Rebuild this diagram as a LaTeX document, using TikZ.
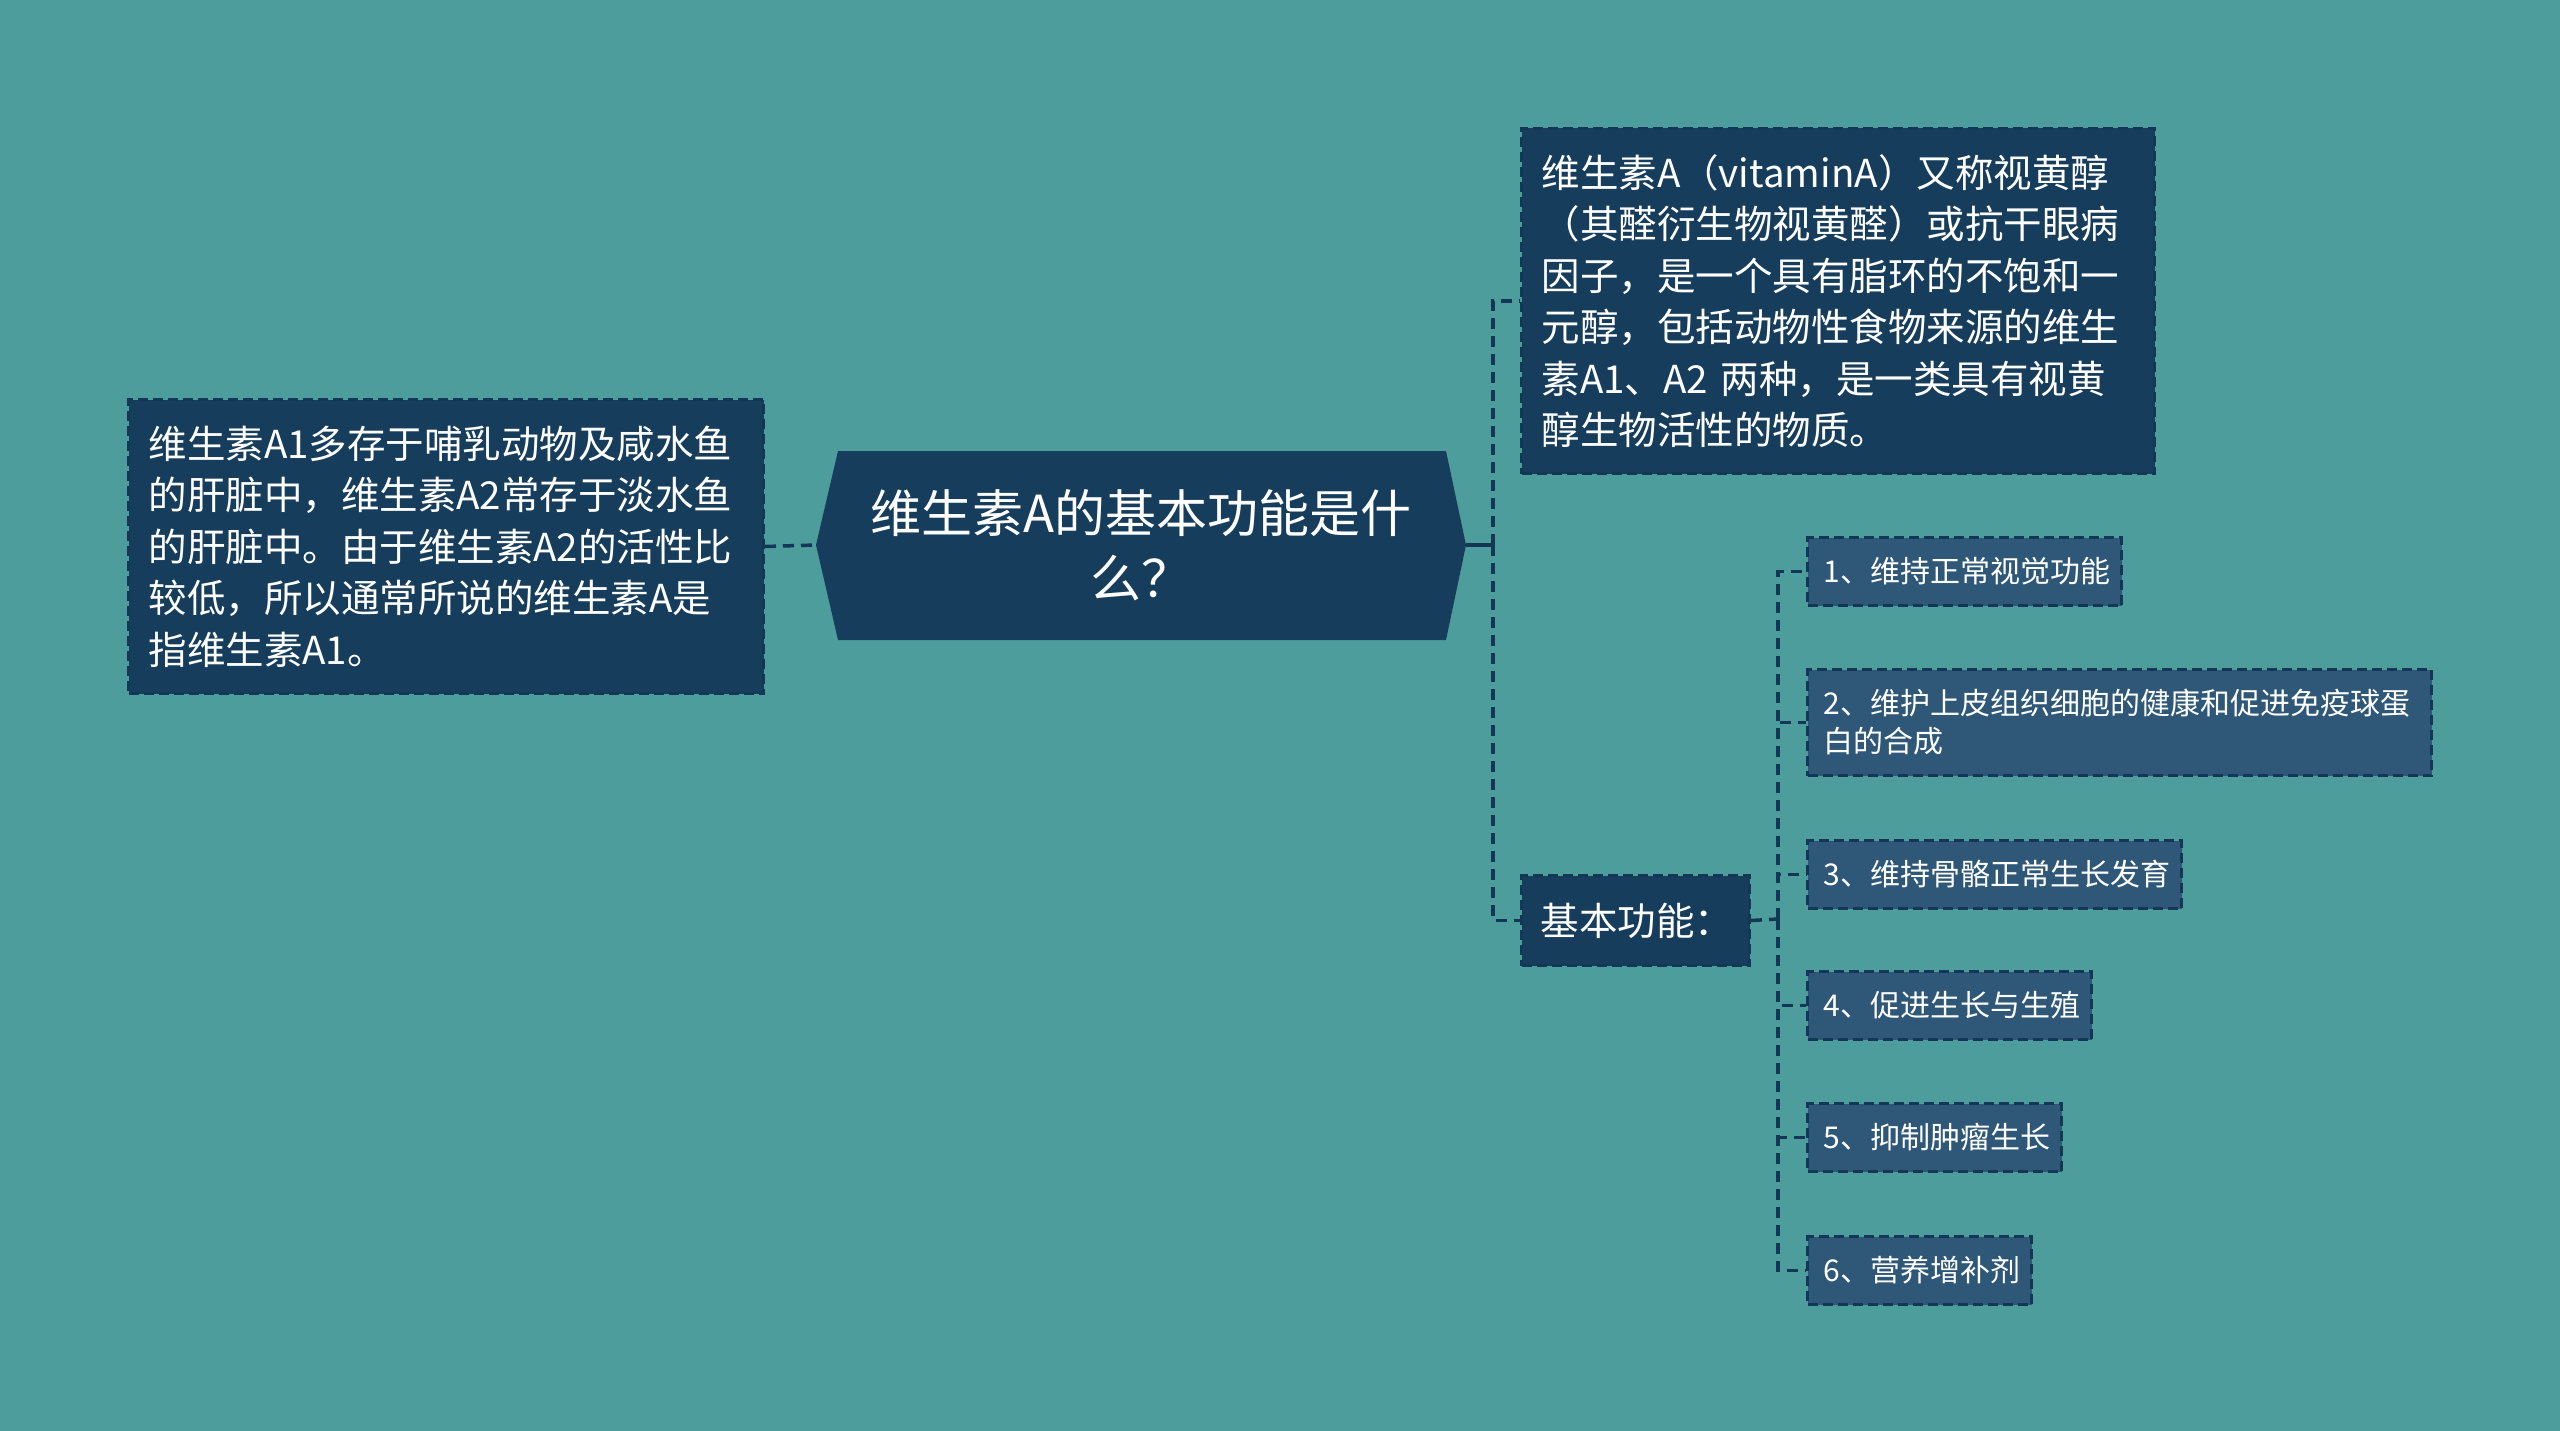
\documentclass[tikz,border=0pt]{standalone}
\usepackage{fontspec}
\setmainfont{Noto Sans CJK SC}
\definecolor{bgc}{RGB}{78,157,157}
\definecolor{darkc}{RGB}{23,61,92}
\definecolor{subc}{RGB}{46,87,120}
\definecolor{linec}{RGB}{20,55,85}
\begin{document}
\begin{tikzpicture}[x=1pt,y=-1pt,
  box/.style={draw=linec, line width=3pt, dash pattern=on 10pt off 5pt, fill=darkc,
    text=white, align=left, anchor=north west, inner xsep=20pt, inner ysep=0pt},
  body/.style={font=\fontsize{38.5}{51.5}\selectfont},
  subbox/.style={box, fill=subc, inner xsep=16pt, minimum height=68pt,
    font=\fontsize{30}{38}\selectfont},
  conn/.style={draw=linec, line width=3.5pt, dash pattern=on 11pt off 7pt},
  solidconn/.style={draw=linec, line width=3.5pt}]
\useasboundingbox[fill=bgc] (0,0) rectangle (2560,1431);

% central hexagon
\coordinate (hexL) at (816,545);
\coordinate (hexTL) at (838,451);
\coordinate (hexTR) at (1446,451);
\coordinate (hexR) at (1466,545);
\coordinate (hexBR) at (1446,640);
\coordinate (hexBL) at (838,640);
\fill[darkc] (hexL) -- (hexTL) -- (hexTR) -- (hexR) -- (hexBR) -- (hexBL) -- cycle;
\node[text=white, align=center, font=\fontsize{51}{65}\selectfont] (title) at (1141,545)
  {维生素A的基本功能是什\\么？};

% left node
\node[box, body, text width=595pt, minimum height=294pt] (L) at (127,398)
  {维生素A1多存于哺乳动物及咸水鱼\\的肝脏中，维生素A2常存于淡水鱼\\的肝脏中。由于维生素A2的活性比\\较低，所以通常所说的维生素A是\\指维生素A1。};

% top right node
\node[box, body, text width=593pt, minimum height=345pt] (R) at (1520,127)
  {维生素A（vitaminA）又称视黄醇\\（其醛衍生物视黄醛）或抗干眼病\\因子，是一个具有脂环的不饱和一\\元醇，包括动物性食物来源的维生\\素A1、A2 两种，是一类具有视黄\\醇生物活性的物质。};

% basic functions node
\node[box, body, inner xsep=19pt, text width=190pt, minimum height=90pt] (F) at (1520,874)
  {基本功能：};

% sub nodes
\node[subbox, text width=282pt] (s1) at (1806,536) {1、维持正常视觉功能};
\node[subbox, text width=592pt, minimum height=106pt] (s2) at (1806,668)
  {2、维护上皮组织细胞的健康和促进免疫球蛋\\白的合成};
\node[subbox, text width=342pt] (s3) at (1806,839) {3、维持骨骼正常生长发育};
\node[subbox, text width=252pt] (s4) at (1806,970) {4、促进生长与生殖};
\node[subbox, text width=222pt] (s5) at (1806,1102) {5、抑制肿瘤生长};
\node[subbox, text width=192pt] (s6) at (1806,1235) {6、营养增补剂};

% connectors
\coordinate (t1) at (1493,545);
\coordinate (t2) at (1778,919);
\draw[conn] (L.east) -- (hexL);
\draw[solidconn] (hexR) -- (t1);
\draw[conn] (t1) |- (R.west);
\draw[conn] (t1) |- (F.west);
\draw[conn] (F.east) -- (t2);
\foreach \s in {s1,s2,s3,s4,s5,s6}{
  \draw[conn] (t2) |- (\s.west);
}
\end{tikzpicture}
\end{document}
